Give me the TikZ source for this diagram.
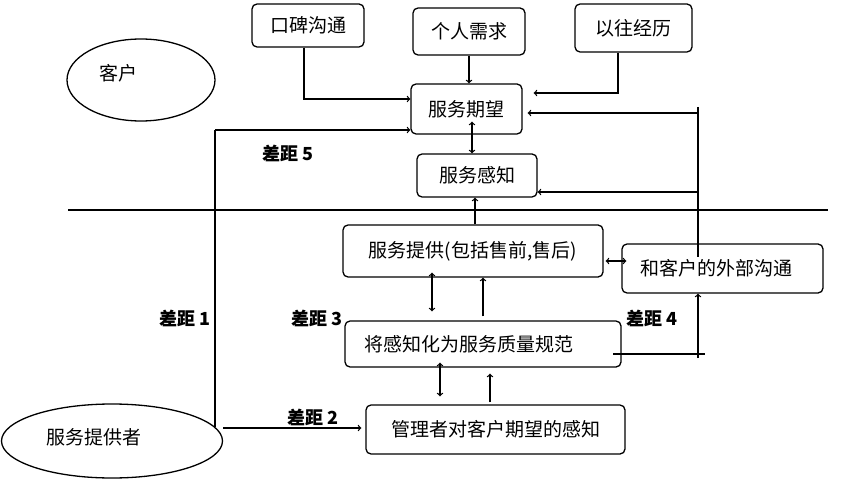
\documentclass[tikz,border=0pt]{standalone}
\usepackage{fontspec}
\setmainfont{Noto Sans CJK SC}
\usetikzlibrary{shapes}

\begin{document}
\begin{tikzpicture}[x=1pt, y=-1pt, line width=1.3pt, >=to,
    box/.style={rectangle, rounded corners=5pt, draw, inner sep=0pt,
    font=\fontsize{19}{21}\selectfont},
    oval/.style={ellipse, draw, inner sep=0pt},
    ovaltext/.style={font=\fontsize{19}{21}\selectfont},
    gap/.style={font=\fontsize{18}{20}\selectfont\bfseries}]
    \useasboundingbox (0,0) rectangle (850,494);

    % customer side
    \node[oval, minimum width=148pt, minimum height=82pt] (kh) at (141,80) {};
    \node[ovaltext] (khl) at (118,73) {客户};
    \node[box, minimum width=112pt, minimum height=43pt] (kb) at (308,25.5) {口碑沟通};
    \node[box, minimum width=112pt, minimum height=47pt] (gr) at (469,31.5) {个人需求};
    \node[box, minimum width=117pt, minimum height=48pt] (yw) at (633.5,28) {以往经历};
    \node[box, minimum width=111pt, minimum height=50pt] (qw) at (466.5,109) {服务期望};
    \node[box, minimum width=120pt, minimum height=43pt] (gz) at (477,175.5) {服务感知};

    % provider side
    \node[box, minimum width=260pt, minimum height=52pt] (tg) at (473,251) {服务提供(包括售前,售后)};
    \node[box, minimum width=201pt, minimum height=49pt] (wb) at (722.5,268.5) {\hspace*{-13pt}和客户的外部沟通};
    \node[box, minimum width=276pt, minimum height=46pt] (gf) at (483,344) {将感知化为服务质量规范\hspace*{28pt}};
    \node[box, minimum width=259pt, minimum height=49pt] (gl) at (495.5,429.5) {管理者对客户期望的感知};
    \node[oval, minimum width=221pt, minimum height=74pt] (tgz) at (112,441) {};
    \node[ovaltext] (tgzl) at (94,437) {服务提供者};

    % gaps
    \node[gap] (g5) at (288,153) {差距 5};
    \node[gap] (g1) at (185,318) {差距 1};
    \node[gap] (g3) at (317,318) {差距 3};
    \node[gap] (g4) at (652,318) {差距 4};
    \node[gap] (g2) at (313,417) {差距 2};

    \coordinate (sl) at (68,210);
    \coordinate (sr) at (828,210);
    \coordinate (rt) at (698,107);
    \coordinate (rb) at (698,257);
    \coordinate (lt) at (215,130);
    \coordinate (lb) at (215,427);
    \coordinate (hl) at (613,354);
    \coordinate (hr) at (705,354);
    \coordinate (rv) at (698,358);
    \coordinate (ta) at (223,428);

    \draw (sl) -- (sr);
    \draw (rt) -- (rb);
    \draw (lb) -- (lt);
    \draw (hl) -- (hr);

    \draw[->] ([xshift=-4pt]kb.south) |- ([yshift=10pt]qw.west);
    \draw[->] (gr.south) -- (gr.south |- qw.north);
    \draw[->, shorten >=11pt] ([xshift=-15.5pt]yw.south) |- ([yshift=16pt]qw.east);
    \draw[->, shorten >=5pt] ([yshift=-4pt]qw.east -| rt) -- ([yshift=-4pt]qw.east);
    \draw[->] ([yshift=-16.5pt]gz.east -| rt) -- ([yshift=-16.5pt]gz.east);
    \draw[->] (lt) -- (lt -| qw.west);
    \draw[<->] ([xshift=5.5pt,yshift=13pt]qw.south) -- ([xshift=5.5pt]qw.south |- gz.north);
    \draw[->] ([xshift=2pt]tg.north) -- ([xshift=2pt]tg.north |- gz.south);
    \draw[<->] ([xshift=2pt,yshift=-10pt]tg.east) -- ([xshift=5pt,yshift=-10pt]tg.east -| wb.west);
    \draw[<->, shorten >=9pt] ([xshift=-41pt,yshift=5pt]tg.south) -- ([xshift=-41pt]tg.south |- gf.north);
    \draw[->] ([yshift=4pt]gf.north) -- (gf.north |- tg.south);
    \draw[<->, shorten >=8pt] ([xshift=-43pt,yshift=5pt]gf.south) -- ([xshift=-43pt]gf.south |- gl.north);
    \draw[->, shorten >=6pt] ([xshift=-5.5pt,yshift=2pt]gl.north) -- ([xshift=-5.5pt]gl.north |- gf.south);
    \draw[->] (rv) -- (rv |- wb.south);
    \draw[->, shorten >=4pt] (ta) -- (ta -| gl.west);
\end{tikzpicture}
\end{document}
